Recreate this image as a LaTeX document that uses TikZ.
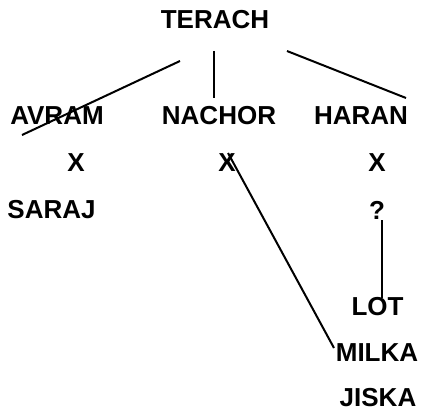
\documentclass[tikz,border=0pt]{standalone}
\usepackage{fontspec}
\setmainfont{Liberation Sans}
\begin{document}
\begin{tikzpicture}[x=1pt,y=-1pt,
  lbl/.style={inner sep=0pt, font=\bfseries\fontsize{26}{31}\selectfont},
  link/.style={line width=2pt, black}]
\useasboundingbox (0,0) rectangle (423,412);
\node[lbl] (terach) at (215,19.5) {TERACH};
\node[lbl] (avram) at (57,116) {AVRAM};
\node[lbl] (nachor) at (219,116) {NACHOR};
\node[lbl] (haran) at (361,116) {HARAN};
\node[lbl] (xa) at (76,163) {X};
\node[lbl] (xn) at (227,163) {X};
\node[lbl] (xh) at (377,163) {X};
\node[lbl] (saraj) at (51.5,210) {SARAJ};
\node[lbl] (q) at (377,210) {?};
\node[lbl] (lot) at (377.5,307) {LOT};
\node[lbl] (milka) at (377,353) {MILKA};
\node[lbl] (jiska) at (378,397.5) {JISKA};
\coordinate (t1) at (180,61);
\coordinate (a1) at (22,135);
\coordinate (t2) at (214,51);
\coordinate (n1) at (214,98);
\coordinate (t3) at (287,51);
\coordinate (h1) at (406,98);
\coordinate (xn1) at (228,153);
\coordinate (m1) at (334,348);
\coordinate (q1) at (382,220);
\coordinate (l1) at (382,298);
\draw[link] (t1) -- (a1);
\draw[link] (t2) -- (n1);
\draw[link] (t3) -- (h1);
\draw[link] (xn1) -- (m1);
\draw[link] (q1) -- (l1);
\end{tikzpicture}
\end{document}
